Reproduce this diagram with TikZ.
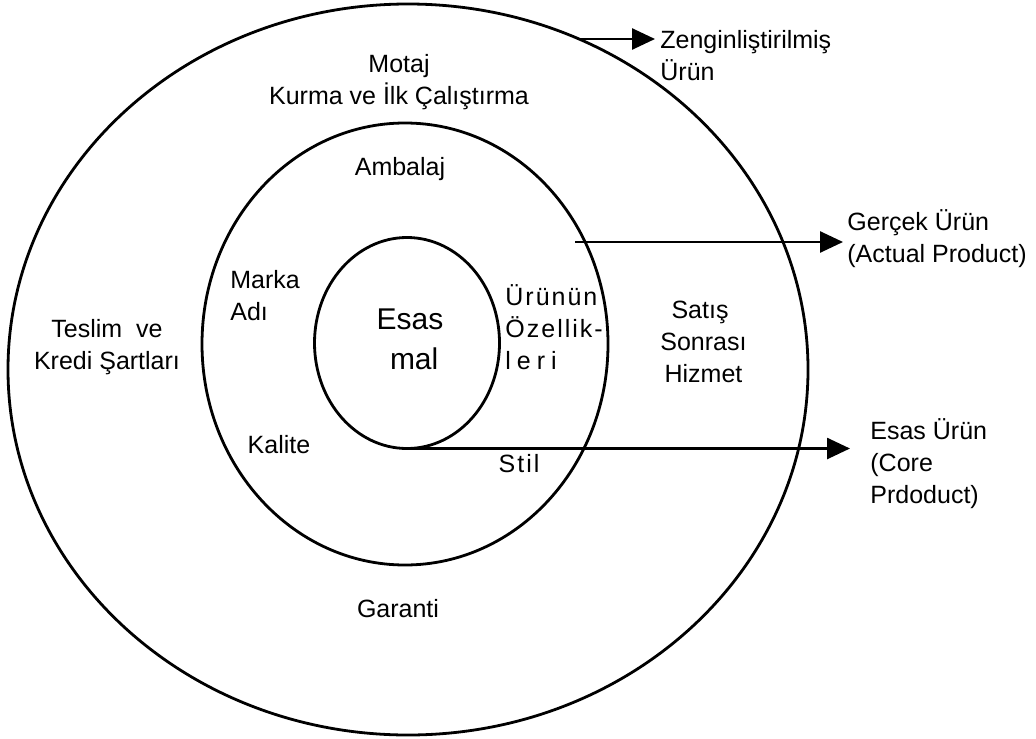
\documentclass[tikz,border=0pt]{standalone}
\usepackage{fontspec}
\setmainfont{Liberation Sans}
\newfontfamily\spacedsf[LetterSpace=8]{Liberation Sans}
\newfontfamily\widesf[LetterSpace=24]{Liberation Sans}
\usetikzlibrary{shapes.geometric,arrows.meta}
\tikzset{
  ring/.style={ellipse, draw, line width=1.4pt, inner sep=0pt, outer sep=0pt},
  lbl/.style={inner sep=0pt, font=\fontsize{12.5}{16}\selectfont},
  biglbl/.style={inner sep=0pt, font=\fontsize{15}{20}\selectfont},
  arr/.style={line width=1.3pt, -{Triangle[length=11.5pt,width=10.5pt]}}
}
\begin{document}
\begin{tikzpicture}[x=0.5pt,y=-0.5pt]
\useasboundingbox (0,0) rectangle (1036,738);
% rings
\node[ring, minimum width=400pt, minimum height=365.5pt] (outer) at (408,369.5) {};
\node[ring, minimum width=203pt, minimum height=221pt] (middle) at (405,344) {};
\node[ring, minimum width=92.5pt, minimum height=105.5pt] (inner) at (407,343) {};
% labels
\node[lbl, align=center] (motaj) at (399,82) {Motaj\\Kurma ve İlk Çalıştırma};
\node[lbl] (ambalaj) at (400,169) {Ambalaj};
\node[lbl, align=left, anchor=west] (marka) at (230,296) {Marka\\Adı};
\node[biglbl, align=center] (esasmal) at (410,339) {Esas\\\ mal};
\node[lbl, align=left, anchor=west] (ozellik) at (505,327) {\spacedsf Ürünün\\\spacedsf Özellik-\\\widesf leri};
\node[lbl, align=center] (satis) at (700,342) {Satış\\\ Sonrası\\\ Hizmet};
\node[lbl, align=center] (teslim) at (107,347) {Teslim\ \ ve\\Kredi Şartları};
\node[lbl] (kalite) at (279,445) {Kalite};
\node[lbl] (stil) at (519,464) {\spacedsf Stil};
\node[lbl] (garanti) at (398,609) {Garanti};
\node[lbl, align=left, anchor=west] (zeng) at (660,56) {Zenginliştirilmiş\\Ürün};
\node[lbl, align=left, anchor=west] (gercek) at (847,239) {Gerçek Ürün\\(Actual Product)};
\node[lbl, align=left, anchor=west] (esasurun) at (870,464) {Esas Ürün\\(Core\\Prdoduct)};
% arrow ends
\coordinate (zengstart) at (579,39);
\coordinate (zengtip) at (655,39);
\coordinate (gercekstart) at (575,242);
\coordinate (gercektip) at (843,242);
\coordinate (esastip) at (850,450);
% arrows
\draw[arr] (zengstart) -- (zengtip);
\draw[arr] (gercekstart) -- (gercektip);
\draw[arr] (inner.south) -- (inner.south -| esastip);
\end{tikzpicture}
\end{document}
